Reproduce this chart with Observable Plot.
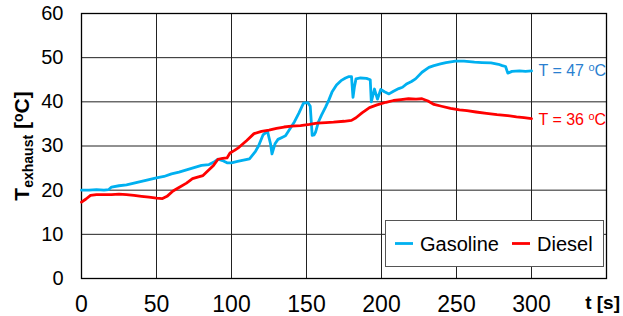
<!DOCTYPE html>
<html><head><meta charset="utf-8">
<script src="https://cdn.jsdelivr.net/npm/d3@7"></script>
<script src="https://cdn.jsdelivr.net/npm/@observablehq/plot@0.6"></script>
<style>
body{margin:0;background:#fff;font-family:"Liberation Sans",Arial,sans-serif}
</style>
</head><body><div id="chart"></div>
<script>
// Series names & colours
const seriesNames = ["Gasoline", "Diesel"];
const seriesColors = ["#00b0f0", "#ff0000"];
const labelColors = ["#2a7fd0", "#ff0000"];

// Gasoline: time [s] and exhaust temperature [°C]
const gasT = [0,5,10,15,18,20,25,30,35,40,45,50,55,60,65,70,75,80,85,88,91,94,97,100,104,108,112,116,118,121,124,126,127,129,131,134,136,139,142,145,148,151,152.5,153.8,155,156,158,160,162.7,165,167,170,173,176,178,180,181,182,183,186,190,192.5,193.2,195.3,197.3,199.5,202,205,208,211.5,214,217,220,222.7,227,231.6,235,239.3,243,249.3,255,262,267,273,278,280.5,282.7,284.2,287,292,296,300];
const gasV = [20.0,20.0,20.1,20.0,20.1,20.7,21.0,21.2,21.6,22.0,22.4,22.8,23.1,23.7,24.1,24.6,25.1,25.6,25.8,26.3,27.0,26.7,26.2,26.2,26.5,26.8,27.1,28.8,30.0,32.5,33.3,30.5,28.2,30.5,31.5,32.0,32.3,33.9,35.5,37.5,39.7,39.8,39.0,32.4,32.5,33.1,35.5,37.0,38.8,40.5,42.2,43.8,44.8,45.4,45.7,45.7,41.0,43.5,45.2,45.4,45.3,45.0,40.0,42.9,40.6,42.8,42.3,41.8,42.4,43.0,43.3,44.1,44.6,45.2,46.7,47.8,48.2,48.6,48.9,49.2,49.2,49.0,48.9,48.8,48.5,48.2,48.0,46.5,46.9,47.0,46.9,47.0];

// Diesel: time [s] and exhaust temperature [°C]
const dieselT = [0,3,6,10,15,20,25,30,35,40,45,50,54,57,61,65,70,74,78,81,85,88,91,94,97,99,102,105,110,115,120,125,130,135,140,146,152,157,163,168,175,180,183,187,192,197,203,208,213,218,223,227,231,235,240,246,252,257,263,270,277,284,290,295,300];
const dieselV = [17.3,18.0,18.8,19.0,19.0,19.0,19.1,19.0,18.8,18.6,18.4,18.2,18.1,18.6,19.8,20.6,21.6,22.6,23.0,23.3,24.6,25.6,27.0,27.2,27.3,28.4,29.0,29.7,31.2,32.8,33.3,33.6,34.0,34.3,34.5,34.6,34.9,35.2,35.3,35.4,35.6,35.8,36.4,37.5,38.7,39.3,39.9,40.3,40.5,40.7,40.6,40.7,40.2,39.4,39.0,38.5,38.2,38.0,37.7,37.4,37.1,36.9,36.6,36.4,36.2];

// End annotations
const labelT = [300, 300];
const labelV = [47, 36];
const labelText = ["T = 47 oC", "T = 36 oC"];

// Ticks
const xTicks = [0, 50, 100, 150, 200, 250, 300];
const xGrid = [0, 50, 100, 150, 200, 250, 300, 350];
const yTicks = [0, 10, 20, 30, 40, 50, 60];

const gas = gasT.map((t, i) => ({t, v: gasV[i]}));
const diesel = dieselT.map((t, i) => ({t, v: dieselV[i]}));
const labels = labelT.map((t, i) => ({t, v: labelV[i], text: labelText[i], color: labelColors[i]}));

const chart = Plot.plot({
  width: 623, height: 316,
  marginLeft: 81, marginRight: 17, marginTop: 13, marginBottom: 38,
  style: {fontFamily: "Liberation Sans, Arial, sans-serif", background: "#fff", color: "#000", overflow: "visible"},
  x: {domain: [0, 350]},
  y: {domain: [0, 60]},
  marks: [
    Plot.gridX(xGrid, {stroke: "#222", strokeOpacity: 1, strokeWidth: 1}),
    Plot.gridY(yTicks, {stroke: "#222", strokeOpacity: 1, strokeWidth: 1}),
    Plot.frame({stroke: "#000", strokeWidth: 1.3}),
    Plot.axisX(xTicks, {tickSize: 0, tickPadding: 17, fontSize: 23, label: null}),
    Plot.axisY(yTicks, {tickSize: 0, tickPadding: 18, fontSize: 20, label: null}),
    Plot.line(gas, {x: "t", y: "v", stroke: seriesColors[0], strokeWidth: 2.8}),
    Plot.line(diesel, {x: "t", y: "v", stroke: seriesColors[1], strokeWidth: 2.8}),
    Plot.text(labels, {x: "t", y: "v", text: "text", fill: "color", textAnchor: "start", dx: 7, fontSize: 16})
  ]
});
document.getElementById("chart").appendChild(chart);

const svg = d3.select(chart);

// superscript "o" in annotations
svg.selectAll("text").each(function() {
  const el = this;
  const s = el.textContent;
  if (/^T = \d+ oC$/.test(s)) {
    const parts = s.split(" oC");
    while (el.firstChild) el.removeChild(el.firstChild);
    const t0 = document.createElementNS("http://www.w3.org/2000/svg", "tspan");
    t0.textContent = parts[0] + " ";
    el.appendChild(t0);
    const t1 = document.createElementNS("http://www.w3.org/2000/svg", "tspan");
    t1.textContent = "o";
    t1.setAttribute("font-size", "11");
    t1.setAttribute("dy", "-5");
    el.appendChild(t1);
    const t2 = document.createElementNS("http://www.w3.org/2000/svg", "tspan");
    t2.textContent = "C";
    t2.setAttribute("dy", "5");
    el.appendChild(t2);
  }
});

// Y axis title with subscript
const yl = svg.append("text")
  .attr("transform", "translate(29,146) rotate(-90)")
  .attr("text-anchor", "middle")
  .attr("font-weight", "bold")
  .attr("font-size", 21)
  .attr("fill", "#000");
yl.append("tspan").text("T");
yl.append("tspan").attr("font-size", 14).attr("dy", 4).text("exhaust");
yl.append("tspan").attr("dy", -4).text(" [");
yl.append("tspan").attr("font-size", 14).attr("dy", -6).text("o");
yl.append("tspan").attr("dy", 6).text("C]");

// X axis title
svg.append("text")
  .attr("x", 620).attr("y", 309)
  .attr("text-anchor", "end")
  .attr("font-weight", "bold")
  .attr("font-size", 19)
  .attr("fill", "#000")
  .text("t [s]");

// Legend
const lg = svg.append("g");
lg.append("rect").attr("x", 385.5).attr("y", 220.5).attr("width", 218).attr("height", 46)
  .attr("fill", "#fff").attr("stroke", "#555").attr("stroke-width", 1);
const lgX = [395, 512];
seriesNames.forEach((name, i) => {
  lg.append("line").attr("x1", lgX[i]).attr("x2", lgX[i] + 18).attr("y1", 243.5).attr("y2", 243.5)
    .attr("stroke", seriesColors[i]).attr("stroke-width", 2.8);
  lg.append("text").attr("x", lgX[i] + 25).attr("y", 243.5).attr("dy", "0.35em")
    .attr("text-anchor", "start")
    .attr("font-size", 20).attr("fill", "#000").text(name);
});
</script>
</body></html>
